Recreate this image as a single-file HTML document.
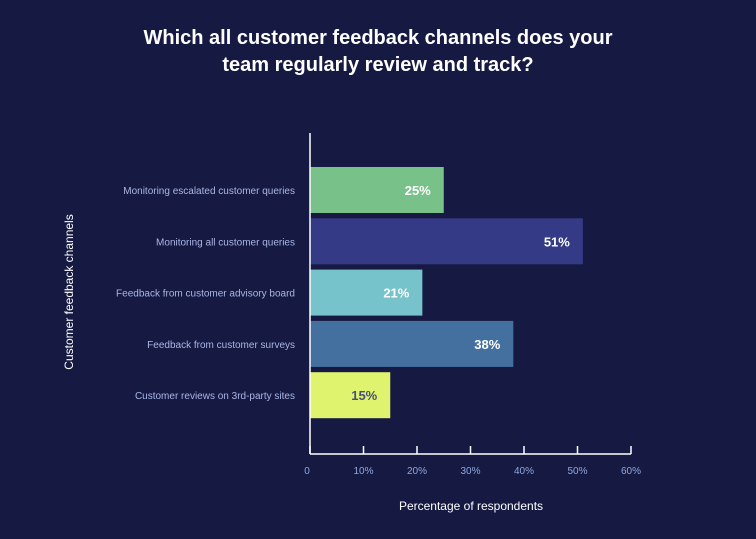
<!DOCTYPE html>
<html><head><meta charset="utf-8"><style>
html,body{margin:0;padding:0;background:#161a42;}
svg{display:block;font-family:"Liberation Sans",sans-serif;}
</style></head><body>
<svg id="chart" width="756" height="539" viewBox="0 0 756 539">
<rect width="756" height="539" fill="#161a42"/>
<text x="378" y="44" text-anchor="middle" fill="#ffffff" font-size="20" font-weight="bold">Which all customer feedback channels does your</text>
<text x="378" y="71" text-anchor="middle" fill="#ffffff" font-size="20" font-weight="bold">team regularly review and track?</text>
<text transform="translate(73,292) rotate(-90)" text-anchor="middle" fill="#ffffff" font-size="12">Customer feedback channels</text>
<text x="471" y="510" text-anchor="middle" fill="#ffffff" font-size="12">Percentage of respondents</text>
<g id="bars"></g>
<g id="axes"></g>
</svg>
<script>
const categories=["Monitoring escalated customer queries","Monitoring all customer queries","Feedback from customer advisory board","Feedback from customer surveys","Customer reviews on 3rd-party sites"];
const values=[25,51,21,38,15];
const colors=["#78c28a","#353a86","#76c3cc","#44709f","#dff36f"];
const labelColors=["#ffffff","#ffffff","#ffffff","#ffffff","#4a4f7a"];
const ticks=[0,10,20,30,40,50,60];
const tickLabels=["0","10%","20%","30%","40%","50%","60%"];
const NS="http://www.w3.org/2000/svg";
const x0=310,x1=631,xmax=60;
const x=v=>x0+(v/xmax)*(x1-x0);
const bandTop=167,bandStep=51.3,barH=46;
const y=i=>bandTop+i*bandStep;
const bars=document.getElementById('bars'),axes=document.getElementById('axes');
function mk(tag,attrs,parent){const e=document.createElementNS(NS,tag);for(const k in attrs)e.setAttribute(k,attrs[k]);parent.appendChild(e);return e;}
categories.forEach((c,i)=>{
 const r=mk('rect',{x:x0,y:y(i),width:x(values[i])-x0,height:barH,fill:colors[i]},bars);
 
 
 const t=mk('text',{x:x(values[i])-13,y:y(i)+barH/2+5,'text-anchor':'end',fill:labelColors[i],'font-size':'13','font-weight':'bold'},bars);
 t.textContent=values[i]+'%';
 
 
 const l=mk('text',{x:295,y:y(i)+barH/2+4,'text-anchor':'end',fill:'#a9b6e6','font-size':'10'},bars);
 l.textContent=c;
 
 
});
const ya=mk('line',{x1:x0,y1:133,x2:x0,y2:454,stroke:'#ffffff','stroke-width':1.5},axes);


const xa=mk('line',{x1:x0,y1:454,x2:x1,y2:454,stroke:'#ffffff','stroke-width':1.5},axes);


ticks.forEach((t,i)=>{
 const tk=mk('line',{x1:x(t),y1:446,x2:x(t),y2:454,stroke:'#ffffff','stroke-width':1.5},axes);
 
 
 const tl=mk('text',{x:x(t)+(i===0?-3:0),y:474,'text-anchor':'middle',fill:'#8fa6e0','font-size':'10'},axes);
 tl.textContent=tickLabels[i];
 
 
});
</script>
</body></html>
